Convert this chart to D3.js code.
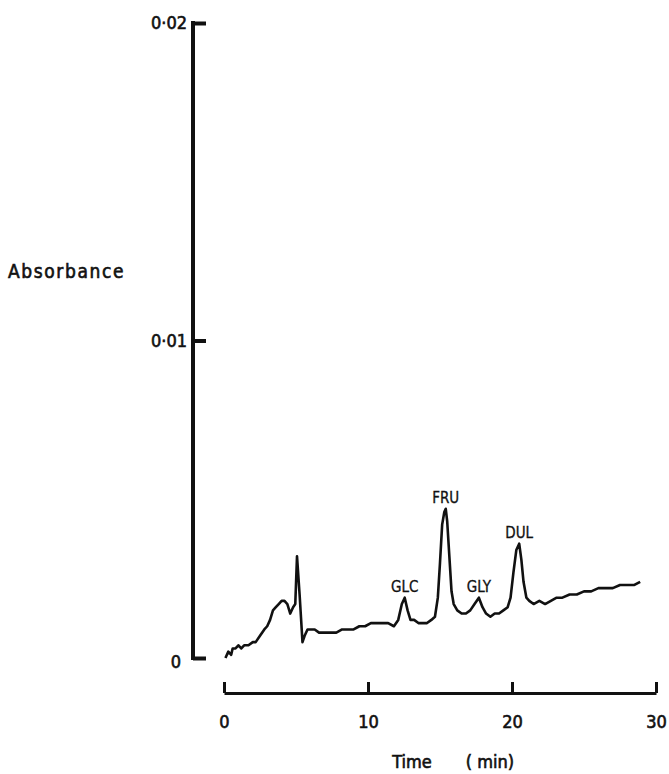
<!DOCTYPE html>
<html>
  <head>
    <meta charset="utf-8">
    <title>Absorbance chromatogram</title>
    <style media="screen">
      body {
        margin: 0;
        background: #fff;
      }
      text {
        font-family: "DejaVu Sans Condensed", "DejaVu Sans", sans-serif;
        fill: #111;
        stroke: #111;
        stroke-width: 0.6px;
      }
      .axis path, .axis line {
        stroke: #111;
      }
    </style>
  </head>
  <body>
    <div id="chart"></div>
  </body>
  <script type="text/javascript" src="https://cdnjs.cloudflare.com/ajax/libs/d3/7.8.5/d3.min.js"></script>
  <script type="text/javascript">
  // time (min) and absorbance
  var times = [0.1, 0.3, 0.5, 0.6, 0.8, 1.0, 1.2, 1.4, 1.7, 2.0, 2.2, 2.5, 2.8, 3.0, 3.2, 3.4, 3.6, 3.8, 4.0, 4.2, 4.4, 4.6, 4.8, 4.95, 5.07,
               5.25, 5.45, 5.6, 5.8, 6.0, 6.3, 6.6, 7.0, 7.4, 7.8, 8.2, 8.6, 9.0, 9.4, 9.8, 10.2, 10.6, 11.0, 11.4, 11.8, 12.1, 12.35, 12.55,
               12.75, 12.95, 13.2, 13.5, 13.8, 14.1, 14.4, 14.65, 14.85, 15.0, 15.15, 15.3, 15.4, 15.5, 15.65, 15.8, 15.95, 16.2, 16.5, 16.8,
               17.1, 17.4, 17.7, 17.95, 18.2, 18.5, 18.8, 19.1, 19.4, 19.7, 19.9, 20.1, 20.3, 20.5, 20.65, 20.8, 21.0, 21.2, 21.5, 21.9,
               22.3, 22.7, 23.1, 23.5, 24.0, 24.5, 25.0, 25.5, 26.0, 26.5, 27.0, 27.5, 28.0, 28.5, 28.9];
  var absorbance = [0.0000, 0.0002, 0.0001, 0.0003, 0.0003, 0.0004, 0.0003, 0.0004, 0.0004, 0.0005, 0.0005, 0.0007, 0.0009, 0.0010, 0.0012, 0.0015, 0.0016, 0.0017, 0.0018, 0.0018, 0.0017, 0.0014, 0.0016, 0.0017, 0.0032,
                    0.0020, 0.0005, 0.0007, 0.0009, 0.0009, 0.0009, 0.0008, 0.0008, 0.0008, 0.0008, 0.0009, 0.0009, 0.0009, 0.0010, 0.0010, 0.0011, 0.0011, 0.0011, 0.0011, 0.0010, 0.0012, 0.0017, 0.0019,
                    0.0015, 0.0012, 0.0012, 0.0011, 0.0011, 0.0011, 0.0012, 0.0013, 0.0019, 0.0030, 0.0042, 0.0046, 0.0047, 0.0043, 0.0032, 0.0021, 0.0017, 0.0015, 0.0014, 0.0014,
                    0.0015, 0.0017, 0.0019, 0.0016, 0.0014, 0.0013, 0.0014, 0.0014, 0.0015, 0.0016, 0.0019, 0.0027, 0.0034, 0.0036, 0.0031, 0.0024, 0.0019, 0.0018, 0.0017, 0.0018,
                    0.0017, 0.0018, 0.0019, 0.0019, 0.0020, 0.0020, 0.0021, 0.0021, 0.0022, 0.0022, 0.0022, 0.0023, 0.0023, 0.0023, 0.0024];

  var peakNames = ["GLC", "FRU", "GLY", "DUL"];
  var peakTimes = [12.55, 15.4, 17.7, 20.5];
  var peakHeights = [0.0019, 0.0047, 0.0019, 0.0036];

  var xTicks = [0, 10, 20, 30];
  var xTickLabels = ["0", "10", "20", "30"];
  var yTicks = [0, 0.01, 0.02];
  var yTickLabels = ["0", "0·01", "0·02"];

  var w = 669, h = 774;
  var svg = d3.select('#chart').append('svg').attr('width', w).attr('height', h);

  var x = d3.scaleLinear().domain([0, 30]).range([224, 656]);
  var y = d3.scaleLinear().domain([0, 0.02]).range([658, 23]);

  // y axis, ticks pointing into the plot
  var yAxis = d3.axisLeft(y)
    .tickValues(yTicks)
    .tickFormat((d, i) => yTickLabels[i])
    .tickSizeInner(-13)
    .tickSizeOuter(0)
    .tickPadding(6);
  var gy = svg.append('g').attr('class', 'axis').attr('transform', 'translate(193,0)').call(yAxis);
  gy.select('.domain').style('stroke-width', 4).attr('d', 'M0,' + (y(0.02) - 2) + 'V' + (y(0) + 2));
  gy.selectAll('line').style('stroke-width', 4);
  gy.selectAll('text').style('font-size', '18px').attr('fill', '#111');
  gy.select('.tick text').attr('dx', -6).attr('dy', '0.5em');

  // x axis, detached below
  var xAxis = d3.axisBottom(x)
    .tickValues(xTicks)
    .tickFormat((d, i) => xTickLabels[i])
    .tickSizeInner(-11)
    .tickSizeOuter(0)
    .tickPadding(22);
  var gx = svg.append('g').attr('class', 'axis').attr('transform', 'translate(0,693)').call(xAxis);
  gx.select('.domain').style('stroke-width', 3);
  gx.selectAll('line').style('stroke-width', 3);
  gx.selectAll('text').style('font-size', '18px').attr('fill', '#111');

  svg.append('text').attr('x', 412).attr('y', 768).style('font-size', '18px').attr('text-anchor', 'middle').text('Time');
  svg.append('text').attr('x', 490).attr('y', 768).style('font-size', '18px').attr('text-anchor', 'middle').text('( min)');
  svg.append('text').attr('x', 8).attr('y', 278).style('font-size', '19px').style('letter-spacing', '1.6px').text('Absorbance');

  // trace
  var pts = times.map((t, i) => [t, absorbance[i]]);
  var line = d3.line().x(d => x(d[0])).y(d => y(d[1]));
  svg.append('path').datum(pts)
    .attr('d', line)
    .style('fill', 'none')
    .style('stroke', '#111')
    .style('stroke-width', 2.6)
    .style('stroke-linejoin', 'round');

  // peak labels
  svg.selectAll('.peak').data(peakNames).enter().append('text')
    .attr('class', 'peak')
    .attr('x', (d, i) => x(peakTimes[i]))
    .attr('y', (d, i) => y(peakHeights[i]) - 6)
    .attr('text-anchor', 'middle')
    .style('font-size', '15px')
    .style('stroke-width', '0.3px')
    .text(d => d);
  </script>
</html>
